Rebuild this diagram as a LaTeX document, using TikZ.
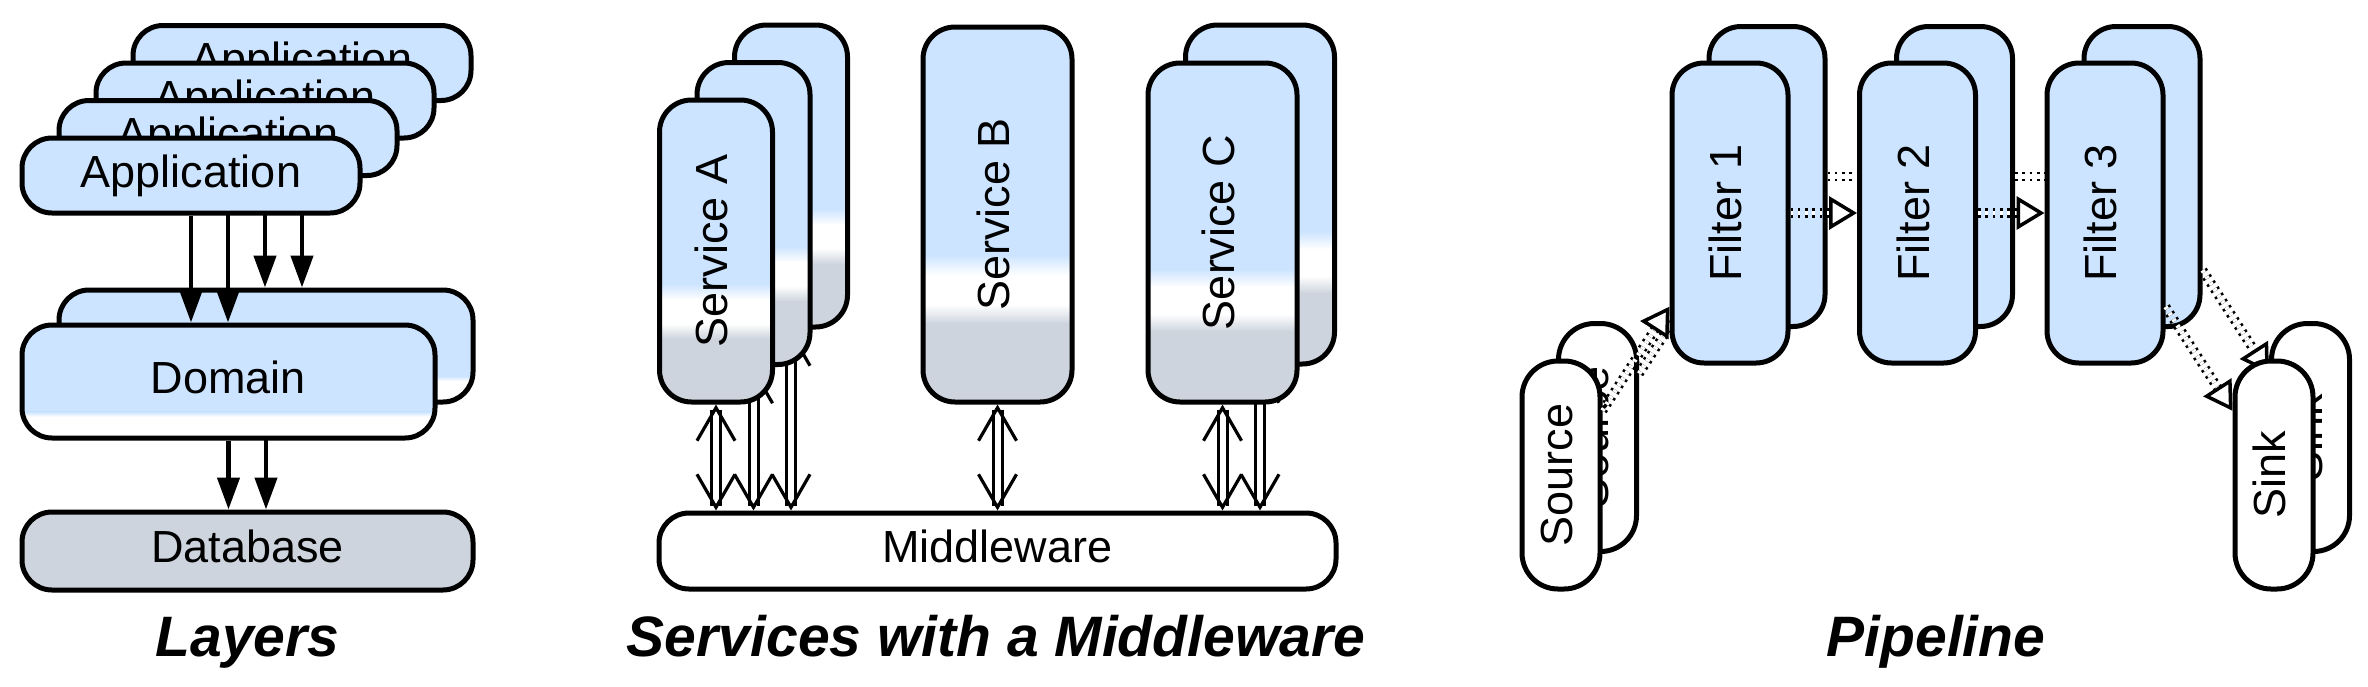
\documentclass[tikz,border=0pt]{standalone}
\usepackage{fontspec}
\setmainfont{Liberation Sans}
\usepackage{graphicx}
\usetikzlibrary{arrows.meta,calc}
\definecolor{cblue}{RGB}{204,228,255}
\definecolor{cgray}{RGB}{205,212,221}
\newcommand\mylbl{\fontsize{45pt}{54pt}\selectfont}
\newcommand\myttl{\fontsize{57pt}{68pt}\selectfont\bfseries\itshape}
\newcommand\vtext[1]{\rotatebox{90}{\vphantom{Apg}#1}}
\begin{document}
\begin{tikzpicture}[x=1pt,y=-1pt,
  band/.style={sharp corners, draw=none, line width=0pt},
  svcfill/.style={path picture={
    \coordinate (pnw) at (path picture bounding box.north west);
    \coordinate (pne) at (path picture bounding box.north east);
    \coordinate (psw) at (path picture bounding box.south west);
    \coordinate (pse) at (path picture bounding box.south east);
    \fill[band, cblue] (pnw) rectangle ($(pne)!0.61!(pse)$);
    \shade[band, top color=cblue, bottom color=white] ($(pnw)!0.608!(psw)$) rectangle ($(pne)!0.662!(pse)$);
    \fill[band, white] ($(pnw)!0.66!(psw)$) rectangle ($(pne)!0.742!(pse)$);
    \shade[band, top color=white, bottom color=cgray] ($(pnw)!0.74!(psw)$) rectangle ($(pne)!0.792!(pse)$);
    \fill[band, cgray] ($(pnw)!0.79!(psw)$) rectangle (pse);}},
  domfill/.style={path picture={
    \coordinate (pnw) at (path picture bounding box.north west);
    \coordinate (pne) at (path picture bounding box.north east);
    \coordinate (psw) at (path picture bounding box.south west);
    \coordinate (pse) at (path picture bounding box.south east);
    \fill[band, cblue] (pnw) rectangle ($(pne)!0.77!(pse)$);
    \shade[band, top color=cblue, bottom color=white] ($(pnw)!0.768!(psw)$) rectangle ($(pne)!0.812!(pse)$);
    \fill[band, white] ($(pnw)!0.81!(psw)$) rectangle (pse);}},
  box/.style={draw, line width=5pt, rounded corners=30pt, inner sep=0pt, font=\mylbl},
  hbox/.style={box, text height=32.5pt, text depth=9.5pt},
  appbox/.style={hbox, fill=cblue, minimum width=338pt, minimum height=75pt},
  dombox/.style={hbox, domfill, minimum width=413pt, minimum height=113pt},
  svabox/.style={box, rounded corners=32pt, svcfill, minimum width=113pt, minimum height=302pt},
  svcbox/.style={box, rounded corners=32pt, svcfill, minimum width=149pt, minimum height=339pt},
  filtbox/.style={box, rounded corners=32pt, fill=cblue, minimum width=116pt, minimum height=300pt},
  endbox/.style={box, rounded corners=36pt, fill=white, minimum width=78pt, minimum height=228pt},
  larr/.style={draw, line width=4.5pt, -{Triangle[length=32pt,width=22pt]}},
  sarr/.style={draw=none,
    postaction={draw, double, double distance=6pt, line width=3pt, shorten <=5pt, shorten >=5pt},
    postaction={draw, line width=3pt, dash pattern=on 0pt off 3000pt,
      {Straight Barb[length=33pt,width=38pt,line width=3.2pt]}-{Straight Barb[length=33pt,width=38pt,line width=3.2pt]}}},
  pipe/.style={draw=none,
    postaction={draw, double, double distance=4.5pt, line width=2.6pt, dash pattern=on 2.6pt off 4.7pt, shorten >=25pt},
    postaction={draw, line width=3.5pt, dash pattern=on 0pt off 3000pt,
      -{Triangle[fill=white,length=28pt,width=33pt,line width=3.5pt]}}},
  ttl/.style={font=\myttl, inner sep=0pt, anchor=base}
]
\useasboundingbox (0,0) rectangle (2368,686);

% ---------------- Layers ----------------
\node[dombox, minimum width=414pt, minimum height=112pt] (D2) at (266,346) {Domain};
\node[hbox, fill=cgray, minimum width=451pt, minimum height=78pt] (DB) at (247.5,551) {Database};
\draw[larr] (D2.south) -- (D2.south |- DB.north);
\node[dombox] (D1) at (228.5,381.5) {Domain};
\draw[larr] (D1.south) -- (D1.south |- DB.north);
\node[appbox] (A4) at (302,63) {Application};
\draw[larr] (A4.south) -- (A4.south |- D2.north);
\node[appbox] (A3) at (265,100.5) {Application};
\draw[larr] (A3.south) -- (A3.south |- D2.north);
\node[appbox] (A2) at (228,138) {Application};
\draw[larr] (A2.south) -- (A2.south |- D1.north);
\node[appbox] (A1) at (191,175.5) {Application};
\draw[larr] (A1.south) -- (A1.south |- D1.north);
\node[ttl] (T1) at (247.5,656) {Layers};

% ---------------- Services ----------------
\node[hbox, fill=white, minimum width=677pt, minimum height=76pt] (MW) at (997.5,551) {Middleware};
\node[svabox] (SA3) at (791,176) {\vtext{Service A}};
\path[sarr] (SA3.south) -- (SA3.south |- MW.north);
\node[svabox] (SA2) at (753.5,213.5) {\vtext{Service A}};
\path[sarr] (SA2.south) -- (SA2.south |- MW.north);
\node[svabox] (SA1) at (716,251) {\vtext{Service A}};
\path[sarr] (SA1.south) -- (SA1.south |- MW.north);
\node[svcbox, minimum height=375pt] (SB) at (997.5,214.5) {\vtext{Service B}};
\path[sarr] (SB.south) -- (SB.south |- MW.north);
\node[svcbox] (SC2) at (1260,194.5) {\vtext{Service C}};
\path[sarr] (SC2.south) -- (SC2.south |- MW.north);
\node[svcbox] (SC1) at (1222.5,232.5) {\vtext{Service C}};
\path[sarr] (SC1.south) -- (SC1.south |- MW.north);
\node[ttl] (T2) at (996,656) {Services with a Middleware};

% ---------------- Pipeline ----------------
\node[endbox] (S2) at (1597.5,437.5) {\vtext{Source}};
\node[filtbox] (F1b) at (1767,176.5) {\vtext{Filter 1}};
\node[filtbox] (F2b) at (1954.5,176.5) {\vtext{Filter 2}};
\node[filtbox] (F3b) at (2142,176.5) {\vtext{Filter 3}};
\node[endbox] (K2) at (2310.5,437.5) {\vtext{Sink}};
\path[pipe] (S2) -- (F1b);
\path[pipe] (F1b) -- (F2b);
\path[pipe] (F2b) -- (F3b);
\path[pipe] (F3b) -- (K2);
\node[filtbox] (F1) at (1730,213) {\vtext{Filter 1}};
\node[filtbox] (F2) at (1917.5,213) {\vtext{Filter 2}};
\node[filtbox] (F3) at (2105,213) {\vtext{Filter 3}};
\node[endbox] (S1) at (1561,475) {\vtext{Source}};
\node[endbox] (K1) at (2274,475) {\vtext{Sink}};
\path[pipe] (S1) -- (F1);
\path[pipe] (F1) -- (F2);
\path[pipe] (F2) -- (F3);
\path[pipe] (F3) -- (K1);
\node[ttl] (T3) at (1936,656) {Pipeline};
\end{tikzpicture}
\end{document}
